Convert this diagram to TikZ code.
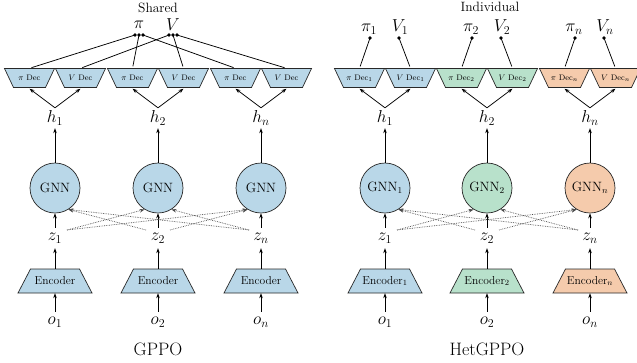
\documentclass[tikz,border=0pt]{standalone}
\usetikzlibrary{arrows.meta,calc}
\definecolor{cblue}{RGB}{185,215,232}
\definecolor{cgreen}{RGB}{184,225,203}
\definecolor{corange}{RGB}{245,203,172}
\definecolor{cedge}{RGB}{40,40,40}
\begin{document}
\begin{tikzpicture}[x=1pt,y=-1pt,
  arr/.style={-{Stealth[length=5pt,width=3.6pt]}, line width=0.75pt},
  dotarr/.style={-{Stealth[length=5pt,width=3.6pt]}, line width=0.7pt, densely dotted, black!70},
  conn/.style={line width=0.75pt, shorten <=2pt},
  shapeedge/.style={draw=cedge, line width=0.7pt},
  dectext/.style={inner sep=0pt, minimum width=50pt, minimum height=19pt, font=\fontsize{8}{9}\selectfont},
  enctext/.style={inner sep=0pt, minimum width=60pt, minimum height=24pt, font=\fontsize{11.5}{13}\selectfont},
  gnnbox/.style={circle, minimum size=50pt, inner sep=0pt, draw=cedge,
    line width=0.7pt, font=\fontsize{13.5}{15}\selectfont},
  lab/.style={inner sep=0pt, minimum height=20pt, font=\fontsize{16.5}{18}\selectfont},
  toplab/.style={inner sep=0pt, font=\fontsize{17}{19}\selectfont},
  dotnode/.style={circle, fill=black, inner sep=0pt, minimum size=3.8pt},
  title/.style={inner sep=0pt, font=\fontsize{13.5}{15}\selectfont},
  caption/.style={inner sep=0pt, font=\fontsize{18}{20}\selectfont},
]
\useasboundingbox (0,0) rectangle (637,362);

% decoder trapezoid (wide top) centred at (#1,#2), filled #3
\newcommand{\dectrap}[3]{%
  \filldraw[shapeedge, fill=#3] (#1-25,68.5) -- (#1+25,68.5) -- (#1+16,87.5) -- (#1-16,87.5) -- cycle;}
% encoder trapezoid (wide bottom)
\newcommand{\enctrap}[2]{%
  \filldraw[shapeedge, fill=#2] (#1-24.5,269) -- (#1+24.5,269) -- (#1+37,293) -- (#1-37,293) -- cycle;}

% ---------------- Left panel: GPPO ----------------
\foreach \i/\cx/\s in {1/55/1, 2/158/2, 3/261/n} {
  \node[gnnbox, fill=cblue] (Lg\i) at (\cx,188) {GNN};
  \node[lab] (Lh\i) at (\cx,118) {$h_{\s}$};
  \node[lab] (Lz\i) at (\cx,238) {$z_{\s}$};
  \enctrap{\cx}{cblue}
  \node[enctext] (Le\i) at (\cx,281) {Encoder};
  \node[lab] (Lo\i) at (\cx,322) {$o_{\s}$};
  \dectrap{\cx-25.5}{78}{cblue}
  \dectrap{\cx+25.5}{78}{cblue}
  \node[dectext] (Lp\i) at (\cx-25.5,78) {$\pi$ Dec};
  \node[dectext] (Lv\i) at (\cx+25.5,78) {$V$ Dec};
  \coordinate (Lz\i r) at ($(Lz\i)+(12,-8)$);
  \coordinate (Lz\i l) at ($(Lz\i)+(-12,-8)$);
  \draw[arr] (Lo\i.north) -- (Le\i.south);
  \draw[arr] (Le\i.north) -- (Lz\i.south);
  \draw[arr] (Lz\i.north) -- (Lg\i.south);
  \draw[arr] (Lg\i.north) -- (Lh\i.south);
  \draw[arr] (Lh\i.north) -- ([yshift=-1pt]Lp\i.south);
  \draw[arr] (Lh\i.north) -- ([yshift=-1pt]Lv\i.south);
}
\node[title] (Lshared) at (158,8) {Shared};
\node[toplab] (Lpi) at (139,25) {$\pi$};
\node[toplab] (LV) at (173,25) {$V$};
\foreach \i/\x in {1/135, 2/139, 3/143} { \node[dotnode] (Ldp\i) at (\x,35) {}; }
\foreach \i/\x in {1/169, 2/173, 3/177} { \node[dotnode] (Ldv\i) at (\x,35) {}; }
\foreach \i in {1,2,3} {
  \draw[conn] (Lp\i.north) -- (Ldp\i.center);
  \draw[conn] (Lv\i.north) -- (Ldv\i.center);
}
\draw[dotarr] (Lz1r) -- (Lg2.-122);
\draw[dotarr] (Lz1r) -- (Lg3.-122);
\draw[dotarr] (Lz2r) -- (Lg3.-122);
\draw[dotarr] (Lz2l) -- (Lg1.-58);
\draw[dotarr] (Lz3l) -- (Lg1.-58);
\draw[dotarr] (Lz3l) -- (Lg2.-58);
\node[caption] (Lcap) at (158,349) {GPPO};

% ---------------- Right panel: HetGPPO ----------------
\foreach \i/\cx/\s/\col in {1/385/1/cblue, 2/487/2/cgreen, 3/590/n/corange} {
  \node[gnnbox, fill=\col] (Rg\i) at (\cx,188) {GNN$_{\s}$};
  \node[lab] (Rh\i) at (\cx,118) {$h_{\s}$};
  \node[lab] (Rz\i) at (\cx,238) {$z_{\s}$};
  \enctrap{\cx}{\col}
  \node[enctext] (Re\i) at (\cx,281) {Encoder$_{\s}$};
  \node[lab] (Ro\i) at (\cx,322) {$o_{\s}$};
  \dectrap{\cx-25.5}{78}{\col}
  \dectrap{\cx+25.5}{78}{\col}
  \node[dectext] (Rp\i) at (\cx-25.5,78) {$\pi$ Dec$_{\s}$};
  \node[dectext] (Rv\i) at (\cx+25.5,78) {$V$ Dec$_{\s}$};
  \node[dotnode] (Rdp\i) at (\cx-15,38) {};
  \node[dotnode] (Rdv\i) at (\cx+14,38) {};
  \node[toplab, anchor=south] (Rpl\i) at (\cx-16,34.5) {$\pi_{\s}$};
  \node[toplab, anchor=south] (Rvl\i) at (\cx+15,34.5) {$V_{\s}$};
  \coordinate (Rz\i r) at ($(Rz\i)+(12,-8)$);
  \coordinate (Rz\i l) at ($(Rz\i)+(-12,-8)$);
  \draw[arr] (Ro\i.north) -- (Re\i.south);
  \draw[arr] (Re\i.north) -- (Rz\i.south);
  \draw[arr] (Rz\i.north) -- (Rg\i.south);
  \draw[arr] (Rg\i.north) -- (Rh\i.south);
  \draw[arr] (Rh\i.north) -- ([yshift=-1pt]Rp\i.south);
  \draw[arr] (Rh\i.north) -- ([yshift=-1pt]Rv\i.south);
  \draw[conn] (Rp\i.north) -- (Rdp\i.center);
  \draw[conn] (Rv\i.north) -- (Rdv\i.center);
}
\node[title] (Rind) at (490,7) {Individual};
\draw[dotarr] (Rz1r) -- (Rg2.-122);
\draw[dotarr] (Rz1r) -- (Rg3.-122);
\draw[dotarr] (Rz2r) -- (Rg3.-122);
\draw[dotarr] (Rz2l) -- (Rg1.-58);
\draw[dotarr] (Rz3l) -- (Rg1.-58);
\draw[dotarr] (Rz3l) -- (Rg2.-58);
\node[caption] (Rcap) at (487,349) {HetGPPO};
\end{tikzpicture}
\end{document}
